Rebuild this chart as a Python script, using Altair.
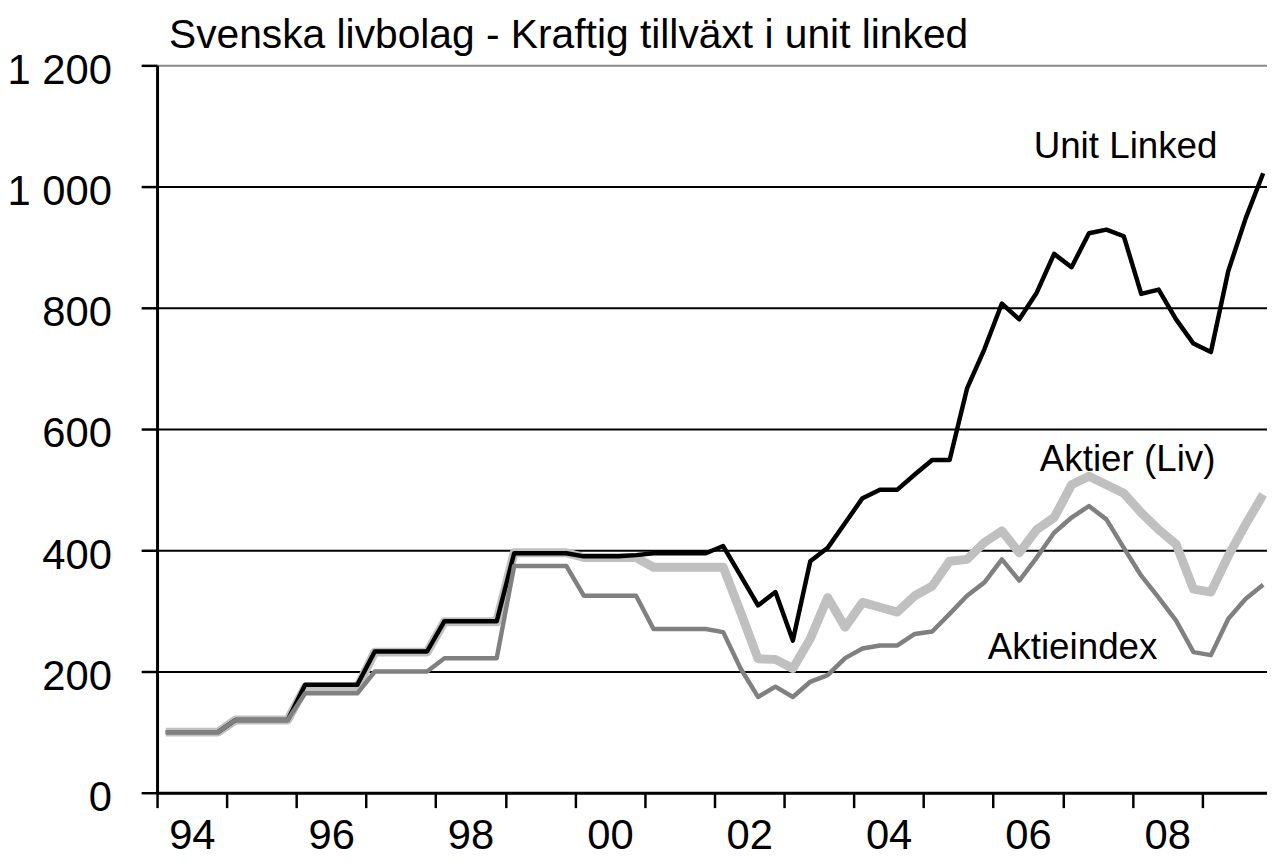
import altair as alt
import pandas as pd

# Quarterly data 1994Q1 - 2009Q4 (index, 1994 = 100)
start_year = 1994
unit_linked = [
    100, 100, 100, 100,
    120, 120, 120, 120,
    178, 178, 178, 178,
    233, 233, 233, 233,
    283, 283, 283, 283,
    395, 395, 395, 395,
    390, 390, 390, 392,
    395, 395, 395, 395,
    407, 358, 309, 331,
    251, 382, 404, 445,
    486, 500, 500, 525,
    549, 549, 667, 732,
    807, 781, 825, 889,
    867, 923, 929, 918,
    823, 830, 781, 741,
    727, 861, 948, 1022,
]
aktier_liv = [
    100, 100, 100, 100,
    120, 120, 120, 120,
    174, 174, 174, 174,
    232, 232, 232, 232,
    282, 282, 282, 282,
    396, 396, 396, 396,
    388, 388, 388, 388,
    372, 372, 372, 372,
    372, 298, 221, 220,
    205, 254, 322, 273,
    314, 306, 298, 325,
    341, 382, 385, 413,
    432, 396, 434, 454,
    508, 522, 508, 494,
    462, 434, 410, 336,
    331, 391, 443, 492,
]
aktieindex = [
    100, 100, 100, 100,
    120, 120, 120, 120,
    164, 164, 164, 164,
    200, 200, 200, 200,
    222, 222, 222, 222,
    374, 374, 374, 374,
    325, 325, 325, 325,
    270, 270, 270, 270,
    265, 205, 158, 175,
    158, 183, 194, 222,
    238, 243, 243, 262,
    266, 295, 325, 347,
    385, 350, 388, 429,
    454, 473, 451, 404,
    358, 322, 284, 232,
    227, 287, 320, 343,
]

series_names = ["Aktier (Liv)", "Unit Linked", "Aktieindex"]
series_values = [aktier_liv, unit_linked, aktieindex]
series_colors = ["#C0C0C0", "#000000", "#808080"]
series_widths = [9, 4.5, 4.5]

year_ticks = list(range(1994, 2010))
y_ticks = [0, 200, 400, 600, 800, 1000, 1200]

annot_text = ["Unit Linked", "Aktier (Liv)", "Aktieindex"]
annot_x = [2007.9, 2007.93, 2007.14]
annot_y = [1066, 549, 238]

title_text = ["Svenska livbolag - Kraftig tillväxt i unit linked"]
FONT = "Liberation Sans"

x_scale = alt.Scale(domain=[1994, 2009.93], nice=False, zero=False)
y_scale = alt.Scale(domain=[0, 1200], nice=False)

x_axis = alt.Axis(
    values=year_ticks, title=None, grid=False,
    labelExpr="datum.value % 2 == 0 ? slice(toString(datum.value), 2) : ''",
    labelOffset=35, labelFlush=False, labelOverlap=False,
    labelFont=FONT, labelFontSize=42, labelColor="black",
    labelBaseline="top", labelPadding=8,
    tickSize=15, tickColor="black", tickWidth=2.5,
    domainColor="black", domainWidth=3,
)
y_axis = alt.Axis(
    values=y_ticks, title=None, grid=True,
    gridColor=alt.condition("datum.value == 1200 || datum.value == 0",
                            alt.value("#888888"), alt.value("black")),
    gridWidth=2,
    labelExpr="replace(format(datum.value, ','), ',', ' ')",
    labelFont=FONT, labelFontSize=42, labelColor="black",
    labelPadding=30, labelOffset=5, labelBaseline="middle",
    tickSize=16, tickColor="black", tickWidth=2.5,
    domainColor="black", domainWidth=3,
)

layers = []
for k, (name, vals) in enumerate(zip(series_names, series_values)):
    df = pd.DataFrame({
        "t": [start_year + (i + 0.5) / 4 for i in range(len(vals))],
        "v": vals,
        "serie": name,
    })
    layers.append(
        alt.Chart(df).mark_line(
            color=series_colors[k], strokeWidth=series_widths[k], strokeJoin="round"
        ).encode(
            x=alt.X("t:Q", scale=x_scale, axis=x_axis),
            y=alt.Y("v:Q", scale=y_scale, axis=y_axis),
        )
    )

annot_df = pd.DataFrame({"label": annot_text, "t": annot_x, "v": annot_y})
annots = alt.Chart(annot_df).mark_text(
    font=FONT, fontSize=37, color="black", align="center", baseline="middle"
).encode(
    x=alt.X("t:Q", scale=x_scale, axis=x_axis),
    y=alt.Y("v:Q", scale=y_scale, axis=y_axis),
    text="label:N",
)

title_df = pd.DataFrame({"label": title_text})
title_mark = alt.Chart(title_df).mark_text(
    font=FONT, fontSize=41, color="black", align="left", baseline="alphabetic"
).encode(
    x=alt.value(12),
    y=alt.value(-17),
    text="label:N",
)

chart = alt.layer(*layers, annots, title_mark).properties(
    width=1117,
    height=732,
    padding={"left": 150, "top": 55, "right": 0, "bottom": 68},
    autosize=alt.AutoSizeParams(type="none"),
).configure_view(stroke=None)

chart.save("out.html", embed_options={"renderer": "svg", "actions": False})
